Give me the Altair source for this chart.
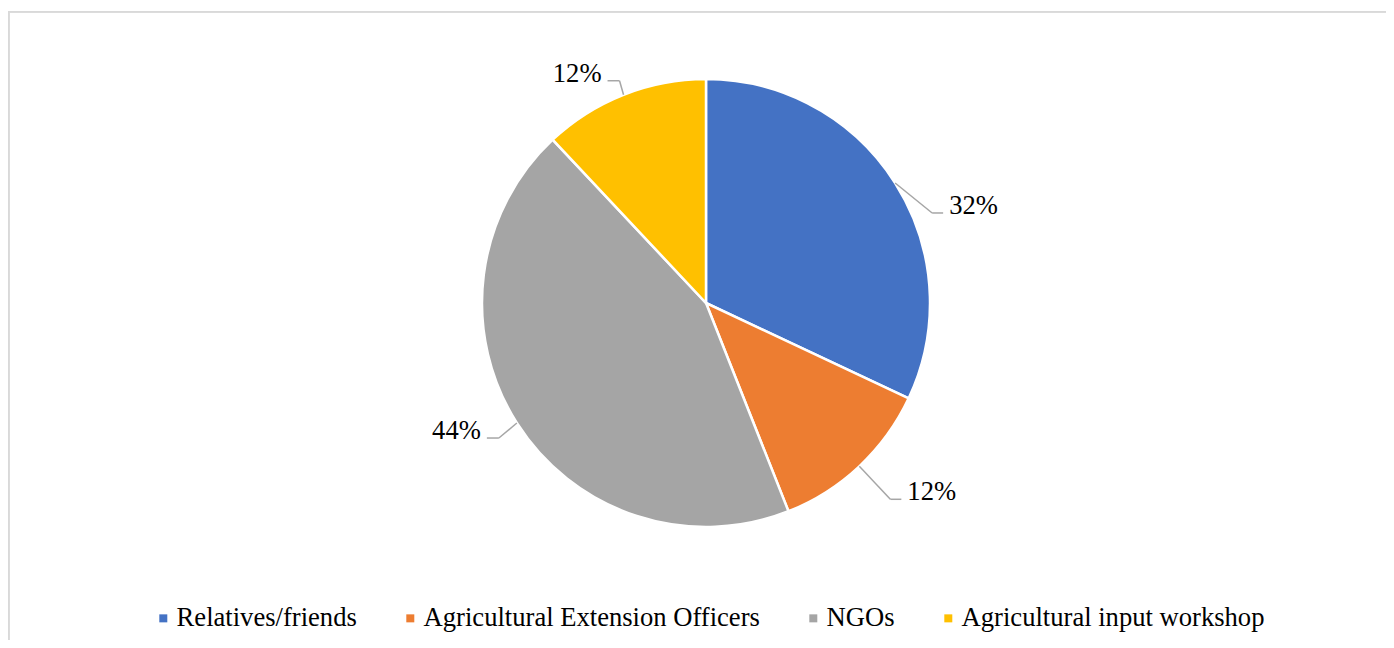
import altair as alt
import pandas as pd

categories = ["Relatives/friends", "Agricultural Extension Officers", "NGOs", "Agricultural input workshop"]
values = [32, 12, 44, 12]
colors = ["#4472C4", "#ED7D31", "#A5A5A5", "#FFC000"]

# leader-line styling per label: (elbow dx, elbow dy, horizontal segment length)
leader_style = {
    "Relatives/friends": (37, 30, 11),
    "Agricultural Extension Officers": (31, 33, 11),
    "NGOs": (-18, 15, -12),
    "Agricultural input workshop": (-4, -14, -12),
}

W, H = 1378, 629
CX, CY, R = 698, 292, 224
FONT = "Liberation Serif"

df = pd.DataFrame({
    "category": categories,
    "value": values,
    "order": list(range(len(categories))),
    "kx": [leader_style[c][0] for c in categories],
    "ky": [leader_style[c][1] for c in categories],
    "hx": [leader_style[c][2] for c in categories],
})

base = alt.Chart(df)

arc = base.mark_arc(outerRadius=R, stroke="white", strokeWidth=2.5).encode(
    theta=alt.Theta("value:Q", stack=True),
    color=alt.Color(
        "category:N",
        scale=alt.Scale(domain=categories, range=colors),
        sort=categories,
        legend=alt.Legend(
            title=None, orient="none", legendX=142, legendY=594,
            direction="horizontal", symbolType="square", symbolSize=64,
            symbolStrokeWidth=0, labelFont=FONT, labelFontSize=26.6,
            labelColor="black", labelOffset=0, columnPadding=40,
            labelLimit=1000,
        ),
    ),
    order=alt.Order("order:Q"),
    x=alt.value(CX),
    y=alt.value(CY),
)

geo = base.transform_joinaggregate(total="sum(value)").transform_window(
    cum="sum(value)", sort=[alt.SortField("order")], frame=[None, 0]
).transform_calculate(
    mid="(datum.cum - datum.value/2) / datum.total * 2 * PI",
    ex=f"{CX} + {R} * sin(datum.mid)",
    ey=f"{CY} - {R} * cos(datum.mid)",
).transform_calculate(
    bx="datum.ex + datum.kx",
    by="datum.ey + datum.ky",
).transform_calculate(
    tx="datum.bx + datum.hx",
    lx="datum.bx + datum.hx + (datum.hx > 0 ? 6 : -6)",
    ly="datum.by + 1",
    label="format(datum.value / datum.total, '.0%')",
)

leader_color = "#A6A6A6"
seg1 = geo.mark_rule(color=leader_color, strokeWidth=1.5).encode(
    x=alt.X("ex:Q", scale=None, axis=None),
    y=alt.Y("ey:Q", scale=None, axis=None),
    x2="bx:Q", y2="by:Q",
)
seg2 = geo.mark_rule(color=leader_color, strokeWidth=1.5).encode(
    x=alt.X("bx:Q", scale=None, axis=None),
    y=alt.Y("by:Q", scale=None, axis=None),
    x2="tx:Q", y2="by:Q",
)
txt_right = geo.transform_filter("datum.hx > 0").mark_text(
    align="left", baseline="alphabetic", font=FONT, fontSize=26.6, color="black"
).encode(
    x=alt.X("lx:Q", scale=None, axis=None),
    y=alt.Y("ly:Q", scale=None, axis=None),
    text="label:N",
)
txt_left = geo.transform_filter("datum.hx < 0").mark_text(
    align="right", baseline="alphabetic", font=FONT, fontSize=26.6, color="black"
).encode(
    x=alt.X("lx:Q", scale=None, axis=None),
    y=alt.Y("ly:Q", scale=None, axis=None),
    text="label:N",
)

border_top = base.mark_rule(color="#D9D9D9", strokeWidth=1.5).encode(
    x=alt.value(0), x2=alt.value(W), y=alt.value(0.75)
)
border_left = base.mark_rule(color="#D9D9D9", strokeWidth=2).encode(
    x=alt.value(0.5), y=alt.value(0), y2=alt.value(H + 20)
)

chart = alt.layer(border_top, border_left, arc, seg1, seg2, txt_right, txt_left).properties(
    width=W, height=H,
    autosize=alt.AutoSizeParams(type="none"),
    padding={"left": 0, "top": 3, "right": 0, "bottom": 0},
).configure_view(stroke=None)

chart.save("out.html", embed_options={"renderer": "svg", "actions": False})
